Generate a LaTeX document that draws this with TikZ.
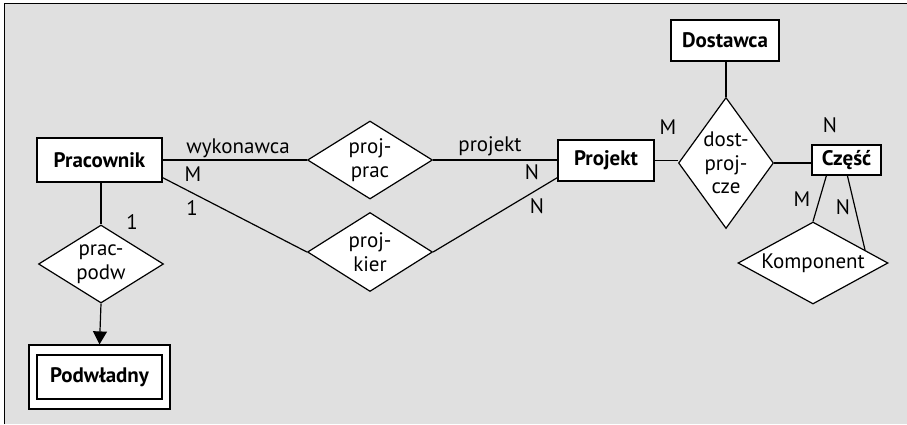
\documentclass[tikz,border=0pt]{standalone}
\usepackage{fontspec}
\setmainfont{PT Sans}
\usetikzlibrary{shapes.geometric,arrows.meta,calc}
\definecolor{bggray}{RGB}{224,224,224}
\begin{document}
\begin{tikzpicture}[x=1pt,y=-1pt,
  font=\fontsize{21}{23}\selectfont,
  every path/.style={line width=1.2pt},
  ent/.style={draw,fill=white,rectangle,inner sep=0pt,font=\fontsize{21}{23}\selectfont\bfseries},
  rel/.style={draw,fill=white,diamond,aspect=1,inner sep=0pt},
  reltext/.style={align=center,inner sep=0pt,font=\fontsize{21}{23.5}\selectfont},
  lbl/.style={inner sep=0pt}]
\useasboundingbox (0,0) rectangle (907,424);
\fill[white] (0,0) rectangle (907,424);
\fill[bggray] (4.5,3.5) rectangle (907,424);
\draw (4.5,424) -- (4.5,3.5) -- (907,3.5);
% entities
\node[ent,minimum width=125,minimum height=44] (prac) at (99.5,160) {Pracownik};
\node[ent,minimum width=96,minimum height=41] (proj) at (606,160.5) {Projekt};
\node[ent,minimum width=108,minimum height=41] (dost) at (725,40.5) {Dostawca};
\node[ent,minimum width=69,minimum height=30] (czesc) at (846.5,160) {Część};
\node[ent,minimum width=141,minimum height=64] (podout) at (99.5,377) {};
\node[ent,minimum width=125,minimum height=44] (pod) at (99.5,377) {Podwładny};
% relationships
\node[rel,minimum width=125,minimum height=78,label={[reltext]center:proj-\\prac}] (pp) at (370,160) {};
\node[rel,minimum width=125,minimum height=79,label={[reltext]center:proj-\\kier}] (pk) at (370,252) {};
\node[rel,minimum width=125,minimum height=78,label={[reltext]center:prac-\\podw}] (pw) at (101,264) {};
\node[rel,minimum width=95,minimum height=131,label={[reltext]center:dost-\\proj-\\cze}] (dpc) at (726,163) {};
\node[rel,minimum width=150,minimum height=82,label={[reltext]center:Komponent}] (komp) at (813,263) {};
% connectors
\draw (prac.east) -- (pp.west);
\draw ($(prac.south east)+(0,-5)$) -- (pk.west);
\draw (pp.east) -- (pp.east -| proj.west);
\draw (pk.east) -- ($(proj.south west)+(0,-4)$);
\draw (prac.south -| pw.north) -- (pw.north);
\draw[-{Triangle[width=14pt,length=13pt]}] (pw.south) -- (podout.north);
\draw (dost.south -| dpc.north) -- (dpc.north);
\draw (proj.east) -- (proj.east -| dpc.west);
\draw (dpc.east) -- (dpc.east -| czesc.west);
\draw ($(czesc.south west)+(15,0)$) -- (komp.north);
\draw ($(czesc.south west)+(36,0)$) -- (komp.14);
% labels
\node[lbl] (l1) at (238,148) {wykonawca};
\node[lbl] (l2) at (193,174) {M};
\node[lbl] (l3) at (192,208) {1};
\node[lbl] (l4) at (132,222) {1};
\node[lbl] (l5) at (490,146) {projekt};
\node[lbl] (l6) at (532,172) {N};
\node[lbl] (l7) at (537,206) {N};
\node[lbl] (l8) at (668,127) {M};
\node[lbl] (l9) at (830,125) {N};
\node[lbl] (l10) at (802,199) {M};
\node[lbl] (l11) at (843,207) {N};
\end{tikzpicture}
\end{document}
